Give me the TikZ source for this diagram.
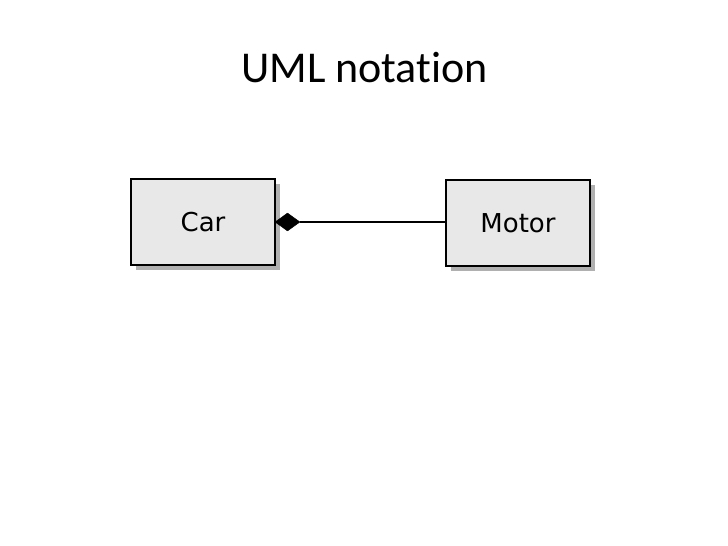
\documentclass[tikz,border=0pt]{standalone}
\usepackage{fontspec}
\setmainfont{Carlito}[Ligatures={NoCommon,NoRequired,NoContextual}]
\newfontfamily\boxfont{DejaVu Sans}
\usetikzlibrary{shapes.geometric,shadows}
\definecolor{boxfill}{HTML}{E8E8E8}
\definecolor{shadowgrey}{HTML}{B0B0B0}
\begin{document}
\begin{tikzpicture}[x=1bp,y=-1bp,
  classbox/.style={draw=black,line width=2.4bp,fill=boxfill,minimum width=144bp,minimum height=86bp,inner sep=0pt,
    font=\boxfont\fontsize{26bp}{30bp}\selectfont,text depth=0pt,
    drop shadow={shadow xshift=5bp,shadow yshift=-5bp,fill=shadowgrey,opacity=1}},
  diam/.style={diamond,fill=black,draw=black,inner sep=0pt,minimum width=25bp,minimum height=18bp}]
\useasboundingbox (0,0) rectangle (728,546);
\node[font=\fontsize{44bp}{50bp}\selectfont,anchor=base] (title) at (364.5,83) {UML notation};
\node[classbox] (car) at (203,222) {Car};
\node[classbox] (motor) at (518,223) {Motor};
\node[diam] (d) at (287.5,222) {};
\draw[line width=1.3bp] (d.east) -- (d.east -| motor.west);
\end{tikzpicture}
\end{document}
